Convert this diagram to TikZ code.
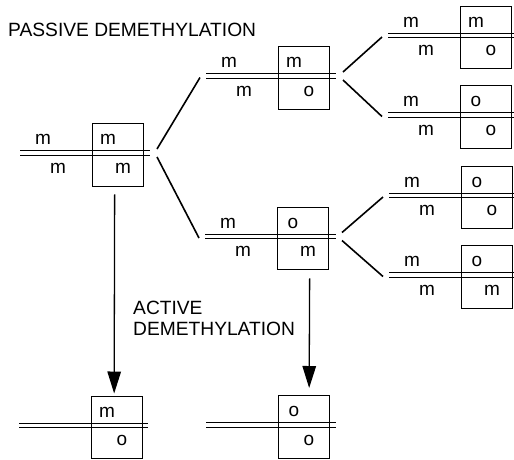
\documentclass[tikz,border=0pt]{standalone}
\usepackage{fontspec}
\setmainfont{Liberation Sans}
\usetikzlibrary{arrows.meta}

\tikzset{
  strand/.style={line width=1pt, double distance=3.5pt},
  site/.style={draw, line width=1.3pt, minimum width=51pt, minimum height=62.5pt,
               inner sep=0pt, anchor=north west},
  mark label/.style={font=\fontsize{19}{19}\selectfont, inner sep=0pt, anchor=base},
  caption/.style={font=\fontsize{19.2}{21}\selectfont, inner sep=0pt, anchor=base west},
  branch/.style={line width=1.6pt},
  conversion/.style={line width=1.3pt, -{Triangle[length=22pt,width=13.5pt]}}
}

% #1 name, #2 box left x, #3 strand y, #4 upper mark in box, #5 lower mark in box, #6 strand right end
\newcommand\siteunit[6]{%
  \draw[strand] ({#2-72},#3) -- (#6,#3);
  \node[site] (#1) at (#2,{#3-30}) {};
  \node[mark label] (#1-tr) at ({#2+16},{#3-8.5}) {#4};
  \node[mark label] (#1-br) at ({#2+31},{#3+20}) {#5};
  \coordinate (#1-in) at ({#2-78},{#3+1.5});
  \coordinate (#1-ou) at ({#2+65},{#3-4});
  \coordinate (#1-od) at ({#2+65},{#3+4});
}
% marks on the strand to the left of a box: #1 name, #2 box left x, #3 strand y, #4 upper, #5 lower
\newcommand\strandmarks[5]{%
  \node[mark label] (#1-tl) at ({#2-49},{#3-8.5}) {#4};
  \node[mark label] (#1-bl) at ({#2-34},{#3+20}) {#5};
}

\begin{document}
\begin{tikzpicture}[x=1pt, y=-1pt]
  \useasboundingbox (0,0) rectangle (514,459);

  \node[caption] (passive) at (8,36.5) {PASSIVE DEMETHYLATION};
  \node[caption, align=left, anchor=north west] (active) at (133,301)
    {ACTIVE\\DEMETHYLATION};

  % parent molecule
  \siteunit{u1}{92}{153}{m}{m}{150}
  \strandmarks{u1}{92}{153}{m}{m}
  % first replication
  \siteunit{u2}{278}{76}{m}{o}{336}
  \strandmarks{u2}{278}{76}{m}{m}
  \siteunit{u7}{277}{236.5}{o}{m}{336}
  \strandmarks{u7}{277}{236.5}{m}{m}
  % second replication
  \siteunit{u3}{460}{35.5}{m}{o}{514}
  \strandmarks{u3}{460}{35.5}{m}{m}
  \siteunit{u4}{460}{115}{o}{o}{514}
  \strandmarks{u4}{460}{115}{m}{m}
  \siteunit{u5}{461}{195.5}{o}{o}{514}
  \strandmarks{u5}{461}{195.5}{m}{m}
  \siteunit{u6}{461}{275}{o}{m}{514}
  \strandmarks{u6}{461}{275}{m}{m}
  % products of active demethylation
  \siteunit{a1}{91}{425.5}{m}{o}{148}
  \siteunit{a2}{278}{425}{o}{o}{336}

  % replication branches
  \draw[branch] (u1-ou) -- (u2-in);
  \draw[branch] (u1-od) -- (u7-in);
  \draw[branch] (u2-ou) -- (u3-in);
  \draw[branch] (u2-od) -- (u4-in);
  \draw[branch] (u7-ou) -- (u5-in);
  \draw[branch] (u7-od) -- (u6-in);

  % active demethylation
  \draw[conversion] ([xshift=-3.5pt,yshift=-7.5pt]u1.south) -- ([xshift=-3pt,yshift=2pt]a1.north);
  \draw[conversion] ([xshift=6.5pt,yshift=-8pt]u7.south) -- ([xshift=5pt,yshift=7pt]a2.north);
\end{tikzpicture}
\end{document}
